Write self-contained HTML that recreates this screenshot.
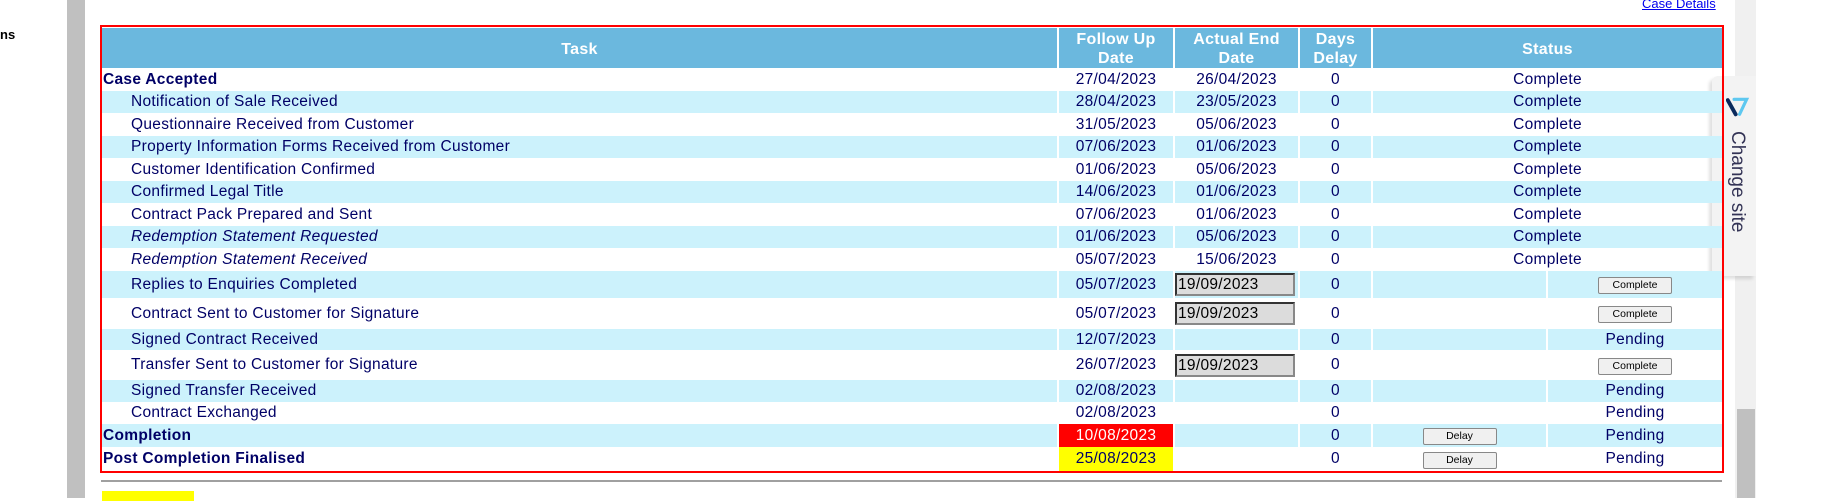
<!DOCTYPE html>
<html><head><meta charset="utf-8">
<style>
html,body{margin:0;padding:0;width:1823px;height:498px;overflow:hidden;background:#fff;font-family:"Liberation Sans",sans-serif;}
.abs{position:absolute;}
#box{position:absolute;left:100px;top:25px;width:1620px;border:2px solid #ff0000;z-index:3;overflow:hidden;}
table{border-collapse:separate;border-spacing:2px 0;table-layout:fixed;width:1624px;margin:1px -2px 0 -2px;}
td,th{padding:0;font-size:15.5px;color:#000066;white-space:nowrap;overflow:hidden;letter-spacing:0.3px;}
th{background:#6bb8de;color:#fff;font-weight:bold;font-size:16px;line-height:19px;height:38px;text-align:center;padding-top:2px;}
tr.b td{background:#ccf2fc;}
td.c{text-align:center;}
td.i{padding-left:29px;}
td.h{font-weight:bold;padding-left:1px;}
td.it{font-style:italic;padding-left:29px;}
.inp{display:inline-block;width:115px;height:19px;line-height:19px;background:#dcdcdc;border:2px solid;border-color:#333 #888 #888 #333;font-size:15.5px;padding-left:1px;text-align:left;color:#000;}
.btn{display:inline-block;width:72px;height:15px;line-height:15px;font-size:10.5px;background:#f0f0f0;border:1px solid #888;border-radius:2px;text-align:center;color:#000;letter-spacing:0;}
</style></head><body>
<div class="abs" style="left:67px;top:0;width:18px;height:498px;background:#c0c0c0"></div>
<div class="abs" style="left:0;top:27px;font-size:13px;font-weight:bold;color:#000">ns</div>
<a class="abs" style="left:1642px;top:-4px;font-size:13px;color:#0000ee;text-decoration:underline">Case Details</a>
<div class="abs" style="left:1735px;top:0;width:21px;height:498px;background:#f0f0f0"></div>
<div class="abs" style="left:1737px;top:409px;width:18px;height:89px;background:#c0c0c0"></div>
<div class="abs" style="left:1712px;top:76px;width:44px;height:200px;background:#f3f3f3;border-radius:6px 0 0 6px;box-shadow:-3px 3px 3px rgba(0,0,0,0.12);z-index:2">
  <svg style="position:absolute;left:14px;top:21px" width="24" height="22" viewBox="0 0 30 28"><path d="M2 4 L12 22" stroke="#0a2a5c" stroke-width="5" stroke-linecap="round"/><path d="M10 3 L26 3 L17 22" stroke="#5ec8f0" stroke-width="4" fill="none" stroke-linecap="round"/></svg>
  <div style="position:absolute;left:36px;top:55px;transform-origin:0 0;transform:rotate(90deg);font-size:19px;color:#333355;white-space:nowrap">Change site</div>
</div>
<div id="box">
<table>
<colgroup><col style="width:955px"><col style="width:114px"><col style="width:123px"><col style="width:71px"><col style="width:173px"><col style="width:174px"></colgroup>
<tr><th>Task</th><th>Follow Up<br>Date</th><th>Actual End<br>Date</th><th>Days<br>Delay</th><th colspan="2">Status</th></tr>
<tr style="height:23px"><td class="h">Case Accepted</td><td class="c">27/04/2023</td><td class="c">26/04/2023</td><td class="c">0</td><td class="c" colspan="2">Complete</td></tr>
<tr class="b" style="height:22px"><td class="i">Notification of Sale Received</td><td class="c">28/04/2023</td><td class="c">23/05/2023</td><td class="c">0</td><td class="c" colspan="2">Complete</td></tr>
<tr style="height:23px"><td class="i">Questionnaire Received from Customer</td><td class="c">31/05/2023</td><td class="c">05/06/2023</td><td class="c">0</td><td class="c" colspan="2">Complete</td></tr>
<tr class="b" style="height:22px"><td class="i">Property Information Forms Received from Customer</td><td class="c">07/06/2023</td><td class="c">01/06/2023</td><td class="c">0</td><td class="c" colspan="2">Complete</td></tr>
<tr style="height:23px"><td class="i">Customer Identification Confirmed</td><td class="c">01/06/2023</td><td class="c">05/06/2023</td><td class="c">0</td><td class="c" colspan="2">Complete</td></tr>
<tr class="b" style="height:22px"><td class="i">Confirmed Legal Title</td><td class="c">14/06/2023</td><td class="c">01/06/2023</td><td class="c">0</td><td class="c" colspan="2">Complete</td></tr>
<tr style="height:23px"><td class="i">Contract Pack Prepared and Sent</td><td class="c">07/06/2023</td><td class="c">01/06/2023</td><td class="c">0</td><td class="c" colspan="2">Complete</td></tr>
<tr class="b" style="height:22px"><td class="it">Redemption Statement Requested</td><td class="c">01/06/2023</td><td class="c">05/06/2023</td><td class="c">0</td><td class="c" colspan="2">Complete</td></tr>
<tr style="height:23px"><td class="it">Redemption Statement Received</td><td class="c">05/07/2023</td><td class="c">15/06/2023</td><td class="c">0</td><td class="c" colspan="2">Complete</td></tr>
<tr class="b" style="height:27px"><td class="i">Replies to Enquiries Completed</td><td class="c">05/07/2023</td><td><span class="inp">19/09/2023</span></td><td class="c">0</td><td></td><td class="c"><span class="btn">Complete</span></td></tr>
<tr style="height:31px"><td class="i">Contract Sent to Customer for Signature</td><td class="c">05/07/2023</td><td><span class="inp">19/09/2023</span></td><td class="c">0</td><td></td><td class="c"><span class="btn">Complete</span></td></tr>
<tr class="b" style="height:21px"><td class="i">Signed Contract Received</td><td class="c">12/07/2023</td><td></td><td class="c">0</td><td></td><td class="c">Pending</td></tr>
<tr style="height:30px"><td class="i">Transfer Sent to Customer for Signature</td><td class="c">26/07/2023</td><td><span class="inp">19/09/2023</span></td><td class="c">0</td><td></td><td class="c"><span class="btn">Complete</span></td></tr>
<tr class="b" style="height:22px"><td class="i">Signed Transfer Received</td><td class="c">02/08/2023</td><td></td><td class="c">0</td><td></td><td class="c">Pending</td></tr>
<tr style="height:22px"><td class="i">Contract Exchanged</td><td class="c">02/08/2023</td><td></td><td class="c">0</td><td></td><td class="c">Pending</td></tr>
<tr class="b" style="height:23px"><td class="h">Completion</td><td class="c" style="background:#ff0000;color:#fff">10/08/2023</td><td></td><td class="c">0</td><td class="c"><span class="btn">Delay</span></td><td class="c">Pending</td></tr>
<tr style="height:24px"><td class="h">Post Completion Finalised</td><td class="c" style="background:#ffff00">25/08/2023</td><td></td><td class="c">0</td><td class="c"><span class="btn">Delay</span></td><td class="c">Pending</td></tr>
</table>
</div>
<div class="abs" style="left:101px;top:480px;width:1621px;height:2px;background:#a0a0a0"></div>
<div class="abs" style="left:102px;top:491px;width:92px;height:10px;background:#ffff00"></div>
</body></html>
